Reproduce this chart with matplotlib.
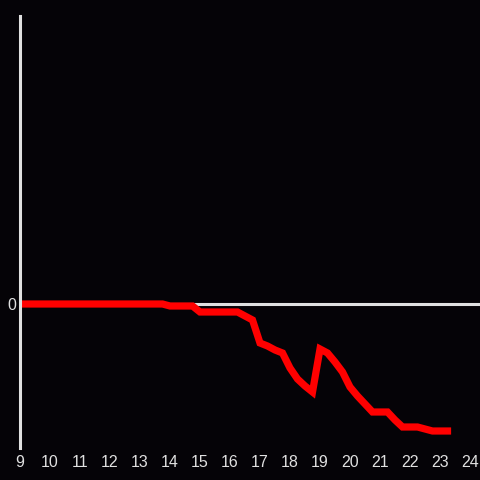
import matplotlib
matplotlib.use("Agg")
import matplotlib.pyplot as plt

# quarter-hour points, 9:00 to 23:15
hours = [9 + i * 0.25 for i in range(58)]
values = [0] * 20 + [
    -2, -2, -2, -2,            # 14:00 - 14:45
    -8, -8, -8, -8, -8, -8,    # 15:00 - 16:15
    -12, -16,                  # 16:30, 16:45
    -39, -42, -46, -49,        # 17:00 - 17:45
    -64, -75, -82, -88,        # 18:00 - 18:45
    -45, -49, -58, -68,        # 19:00 - 19:45
    -83, -92, -100, -108,      # 20:00 - 20:45
    -108, -108, -116, -123,    # 21:00 - 21:45
    -123, -123, -125, -127,    # 22:00 - 22:45
    -127, -127,                # 23:00, 23:15
]
xticks = list(range(9, 25))

bg = '#050307'
fg = '#e0e0e0'

plt.rcParams['font.family'] = ['Liberation Sans', 'DejaVu Sans']

fig = plt.figure(figsize=(4.8, 4.8), dpi=100, facecolor=bg)
ax = fig.add_axes([20 / 480, 32 / 480, 460 / 480, 432 / 480])
ax.set_facecolor(bg)

ax.axhline(0, color=fg, lw=2.2, zorder=1)
ax.plot(hours, values, color='#ff0000', lw=5.2, zorder=2,
        solid_joinstyle='miter', solid_capstyle='projecting')

ax.set_xlim(9, 24.333)
ax.set_ylim(-144, 288)
ax.set_xticks(xticks)
ax.set_yticks([0])

for s in ['top', 'right', 'bottom']:
    ax.spines[s].set_visible(False)
ax.spines['left'].set_color(fg)
ax.spines['left'].set_linewidth(2.2)
ax.spines['left'].set_zorder(3)

ax.tick_params(length=0, colors=fg, labelsize=11.5)
ax.tick_params(axis='x', pad=5)
ax.tick_params(axis='y', pad=3)

fig.savefig('out.png', dpi=100, facecolor=bg)
